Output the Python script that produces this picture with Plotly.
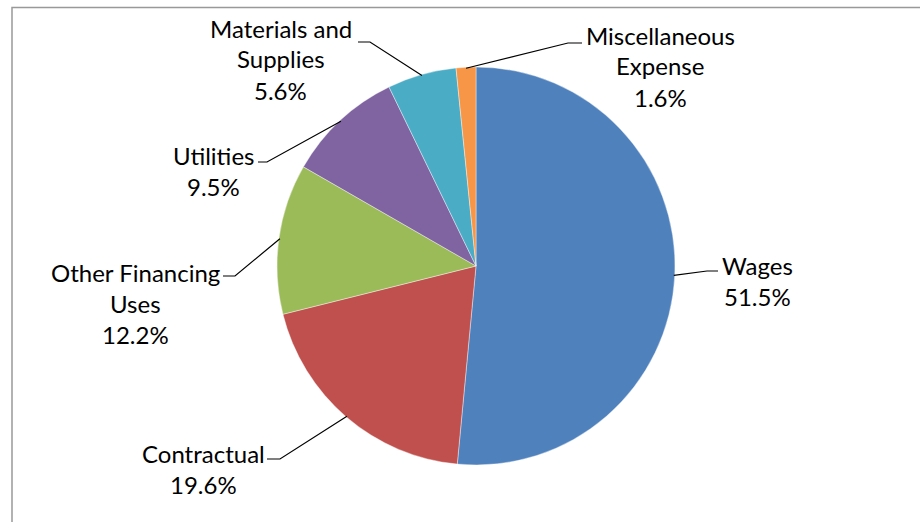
import math
import plotly.graph_objects as go

# Expenditure shares by category (percent of total)
categories = ["Wages", "Contractual", "Other Financing Uses", "Utilities",
              "Materials and Supplies", "Miscellaneous Expense"]
shares = [51.5, 19.6, 12.2, 9.5, 5.6, 1.6]
label_lines = [["Wages"], ["Contractual"], ["Other Financing", "Uses"], ["Utilities"],
               ["Materials and", "Supplies"], ["Miscellaneous", "Expense"]]
colors = ["#4F81BD", "#C0504D", "#9BBB59", "#8064A2", "#4BACC6", "#F79646"]

W, H = 920, 522
CX, CY, R = 476, 266, 199          # pie centre and radius in pixels
LINE_GAP = 31                      # vertical spacing between label lines
FONT = dict(family="Lato, Calibri, Arial, sans-serif", size=24, color="#000000")

# Label placement in pixels: text centre x, first-line centre y, leader elbow, leader end x
label_layout = [
    dict(tx=757, ty=265, elbow=(707, 271), end=718),
    dict(tx=203.5, ty=453, elbow=(280, 459), end=267),
    dict(tx=135.5, ty=272, elbow=(235, 276), end=223),
    dict(tx=213, ty=155, elbow=(267, 162), end=258),
    dict(tx=280.5, ty=28, elbow=(370, 42), end=358),
    dict(tx=660, ty=35, elbow=(568, 43), end=582),
]


def px(x):
    return x / W


def py(y):
    return 1 - y / H


fig = go.Figure(go.Pie(
    labels=categories,
    values=shares,
    sort=False,
    direction="clockwise",
    rotation=0,
    textinfo="none",
    hoverinfo="label+percent",
    marker=dict(colors=colors, line=dict(color="#FFFFFF", width=0.4)),
    domain=dict(x=[px(CX - R), px(CX + R)], y=[py(CY + R), py(CY - R)]),
    showlegend=False,
))

annotations = []
shapes = []
total = sum(shares)
cum = 0.0
for name, val, lines, lay in zip(categories, shares, label_lines, label_layout):
    mid = (cum + val / 2) / total
    cum += val
    theta = 2 * math.pi * mid
    sx = CX + (R - 1) * math.sin(theta)
    sy = CY - (R - 1) * math.cos(theta)
    ex, ey = lay["elbow"]
    path = f"M {px(sx)} {py(sy)} L {px(ex)} {py(ey)} L {px(lay['end'])} {py(ey)}"
    shapes.append(dict(type="path", xref="paper", yref="paper", path=path,
                       line=dict(color="#000000", width=1.2)))
    texts = lines + [f"{val:.1f}%"]
    for i, t in enumerate(texts):
        annotations.append(dict(
            x=px(lay["tx"]), y=py(lay["ty"] + i * LINE_GAP),
            xref="paper", yref="paper", text=t, showarrow=False,
            xanchor="center", yanchor="middle", font=FONT,
        ))

# chart-area frame
shapes.append(dict(type="rect", xref="paper", yref="paper",
                   x0=px(12), y0=py(540), x1=px(940), y1=py(7.5),
                   line=dict(color="#999999", width=1.5), fillcolor="rgba(0,0,0,0)"))

fig.update_layout(
    width=W, height=H,
    margin=dict(l=0, r=0, t=0, b=0),
    paper_bgcolor="#FFFFFF",
    plot_bgcolor="#FFFFFF",
    annotations=annotations,
    shapes=shapes,
)

fig.write_html("out.html")
